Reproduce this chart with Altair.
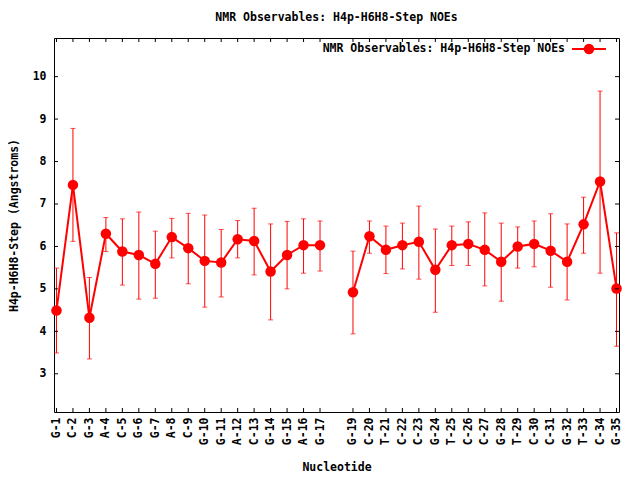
import altair as alt
import pandas as pd

labels = ["G-1","C-2","G-3","A-4","C-5","G-6","G-7","A-8","C-9","G-10","G-11","A-12",
          "C-13","G-14","G-15","A-16","G-17","G-19","C-20","T-21","C-22","C-23","G-24",
          "T-25","C-26","C-27","G-28","T-29","C-30","C-31","G-32","T-33","C-34","G-35"]
positions = list(range(1, 18)) + list(range(19, 36))
means = [4.49, 7.45, 4.32, 6.30, 5.88, 5.80, 5.59, 6.22, 5.96, 5.66, 5.62, 6.17,
         6.13, 5.41, 5.80, 6.03, 6.03, 4.92, 6.24, 5.92, 6.03, 6.11, 5.45,
         6.03, 6.06, 5.92, 5.64, 6.00, 6.06, 5.90, 5.64, 6.52, 7.53, 5.01]
upper = [5.49, 8.78, 5.27, 6.68, 6.65, 6.81, 6.36, 6.66, 6.78, 6.74, 6.40, 6.61,
         6.90, 6.53, 6.59, 6.65, 6.60, 5.89, 6.60, 6.48, 6.55, 6.95, 6.41,
         6.48, 6.58, 6.79, 6.55, 6.46, 6.60, 6.77, 6.53, 7.16, 9.66, 6.32]
lower = [3.49, 6.12, 3.35, 5.88, 5.09, 4.76, 4.78, 5.73, 5.12, 4.57, 4.81, 5.73,
         5.33, 4.27, 5.00, 5.37, 5.42, 3.94, 5.84, 5.36, 5.47, 5.23, 4.45,
         5.55, 5.55, 5.07, 4.71, 5.49, 5.52, 5.04, 4.74, 5.84, 5.37, 3.65]
y_ticks = [3, 4, 5, 6, 7, 8, 9, 10]

title_text = "NMR Observables: H4p-H6H8-Step NOEs"
y_title = "H4p-H6H8-Step (Angstroms)"
x_title = "Nucleotide"

W, H = 565, 374
RED = "#ff0000"
FONT = "DejaVu Sans Mono"
FS = 11.5

df = pd.DataFrame({"pos": positions, "label": labels, "mean": means,
                   "hi": upper, "lo": lower})
df["seg"] = [0 if p < 18 else 1 for p in positions]

lab_arr = [""] * 36
for p, l in zip(positions, labels):
    lab_arr[p] = l
label_expr = "[" + ",".join("'" + s + "'" for s in lab_arr) + "][datum.value]"

xscale = alt.Scale(domain=[0.85, 35.15], nice=False, zero=False)
yscale = alt.Scale(domain=[2.1, 10.91], nice=False, zero=False)

xaxis = alt.Axis(values=positions, tickCount=100, labelExpr=label_expr, labelAngle=270,
                 labelAlign="right", labelBaseline="middle", labelPadding=5,
                 ticks=False, domain=False, grid=False, title=x_title,
                 titleX=W / 2, titleY=55, titleBaseline="middle", titleAlign="center",
                 labelOverlap=False, labelSeparation=0, labelFlush=False)
yaxis = alt.Axis(values=y_ticks, tickCount=20, format="d", ticks=False, domain=False,
                 grid=False, labelPadding=8, title=y_title, titleX=-40, titleY=H / 2,
                 titleAngle=270, titleBaseline="middle", titleAlign="center",
                 labelOverlap=False)

base = alt.Chart(df)
x = alt.X("pos:Q", scale=xscale, axis=xaxis)

bars = base.mark_rule(color=RED, strokeWidth=1).encode(
    x=x, y=alt.Y("lo:Q", scale=yscale, axis=yaxis), y2="hi:Q")
cap_hi = base.mark_tick(color=RED, orient="horizontal", size=5, thickness=1).encode(
    x="pos:Q", y="hi:Q")
cap_lo = base.mark_tick(color=RED, orient="horizontal", size=5, thickness=1).encode(
    x="pos:Q", y="lo:Q")
line = base.mark_line(color=RED, strokeWidth=2).encode(
    x="pos:Q", y="mean:Q", detail="seg:N", order="pos:Q")
pts = base.mark_point(color=RED, filled=True, opacity=1, size=110, shape="circle").encode(
    x="pos:Q", y="mean:Q")

# inward ticks (gnuplot style), all four sides
ydf = pd.DataFrame({"v": y_ticks})
xdf = pd.DataFrame({"p": positions})
yt_l = alt.Chart(ydf).mark_rule(color="black", strokeWidth=1).encode(
    y="v:Q", x=alt.value(0), x2=alt.value(4))
yt_r = alt.Chart(ydf).mark_rule(color="black", strokeWidth=1).encode(
    y="v:Q", x=alt.value(W - 4), x2=alt.value(W))
xt_b = alt.Chart(xdf).mark_rule(color="black", strokeWidth=1).encode(
    x="p:Q", y=alt.value(H - 4), y2=alt.value(H))
xt_t = alt.Chart(xdf).mark_rule(color="black", strokeWidth=1).encode(
    x="p:Q", y=alt.value(0), y2=alt.value(4))

# key (gnuplot style: label then sample)
kdf = pd.DataFrame({"t": [title_text]})
k_text = alt.Chart(kdf).mark_text(font=FONT, fontWeight="bold", fontSize=FS,
                                  align="right", baseline="middle", color="black").encode(
    text="t:N", x=alt.value(511), y=alt.value(11))
k_line = alt.Chart(kdf).mark_rule(color=RED, strokeWidth=2).encode(
    x=alt.value(518), x2=alt.value(552), y=alt.value(11))
k_pt = alt.Chart(kdf).mark_point(color=RED, filled=True, opacity=1, size=110,
                                 shape="circle").encode(x=alt.value(535), y=alt.value(11))

chart = alt.layer(bars, cap_hi, cap_lo, line, pts, yt_l, yt_r, xt_b, xt_t,
                  k_text, k_line, k_pt).properties(
    width=W, height=H,
    background="white",
    title=alt.TitleParams(title_text, font=FONT, fontWeight="bold", fontSize=FS,
                          anchor="middle", offset=14, color="black"),
    autosize=alt.AutoSizeParams(type="none"),
    padding={"left": 46, "top": 30, "right": 13, "bottom": 60},
).configure_view(stroke="black", strokeWidth=1).configure_axis(
    labelFont=FONT, labelFontWeight="bold", labelFontSize=FS, labelColor="black",
    titleFont=FONT, titleFontWeight="bold", titleFontSize=FS, titleColor="black",
    labelOverlap=False,
)

chart.save("out.html", embed_options={"renderer": "svg", "actions": False})
